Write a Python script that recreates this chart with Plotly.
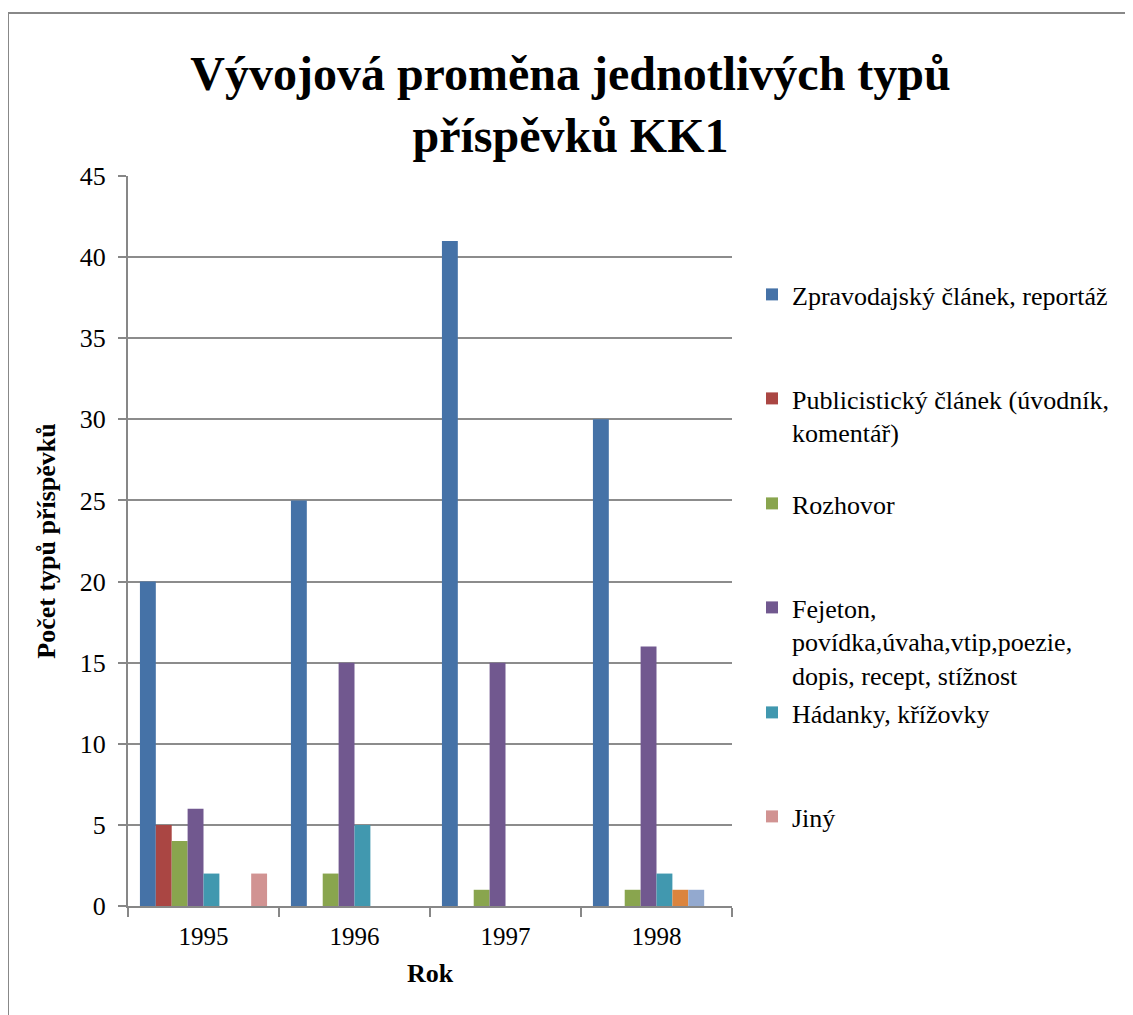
import plotly.graph_objects as go

years = ["1995", "1996", "1997", "1998"]

series_names = [
    "Zpravodajský článek, reportáž",
    "Publicistický článek (úvodník,<br>komentář)",
    "Rozhovor",
    "Fejeton,<br>povídka,úvaha,vtip,poezie,<br>dopis, recept, stížnost",
    "Hádanky, křížovky",
    "Série 6",
    "Série 7",
    "Jiný",
]

zpravodajsky = [20, 25, 41, 30]
publicisticky = [5, 0, 0, 0]
rozhovor = [4, 2, 1, 1]
fejeton = [6, 15, 15, 16]
hadanky = [2, 5, 0, 2]
serie6 = [0, 0, 0, 1]
serie7 = [0, 0, 0, 1]
jiny = [2, 0, 0, 0]

values = [zpravodajsky, publicisticky, rozhovor, fejeton, hadanky, serie6, serie7, jiny]
colors = ["#4572A7", "#AA4643", "#89A54E", "#71588F", "#4198AF", "#DB843D", "#93A9CF", "#D19392"]
in_legend = [True, True, True, True, True, False, False, True]

title_text = "Vývojová proměna jednotlivých typů<br>příspěvků KK1"
x_title = "Rok"
y_title = "Počet typů příspěvků"

FONT = "Liberation Serif"
OFF = 8  # page body margin
W, H = 1133 - OFF, 1015 - OFF
L, R, T, B = 128, 732, 176, 906  # plot area in page pixels

fig = go.Figure()
legend_ids = ["legend", "legend2", "legend3", "legend4", "legend5", "legend6"]
li = 0
for name, vals, col, show in zip(series_names, values, colors, in_legend):
    kw = {}
    if show:
        kw["legend"] = legend_ids[li]
        li += 1
    fig.add_trace(go.Bar(
        x=years, y=vals, name=name, marker=dict(color=col, line=dict(width=0)),
        showlegend=show, **kw
    ))

def px_x(p):
    return (p - L) / (R - L)

def px_y(p):
    return (B - p) / (B - T)

legend_common = dict(
    font=dict(family=FONT, size=26, color="#000000"),
    bgcolor="rgba(0,0,0,0)", valign="top", xanchor="left", yanchor="top",
    itemclick=False, itemdoubleclick=False,
)
first_line_centers = [297, 401, 506, 610, 715, 819]
layout_legends = {}
for lid, cy in zip(legend_ids, first_line_centers):
    layout_legends[lid] = dict(x=px_x(752), y=px_y(cy - 26), **legend_common)

fig.update_layout(
    width=W, height=H,
    margin=dict(l=L - OFF, r=W - (R - OFF), t=T - OFF, b=H - (B - OFF), pad=0),
    paper_bgcolor="white", plot_bgcolor="white",
    barmode="group", bargap=0.158, bargroupgap=0,
    title=dict(text=title_text, x=0.5, xanchor="center", y=1 - 82 / H, yanchor="top",
               yref="container", xref="container",
               font=dict(family=FONT, size=48, color="#000000", weight="bold")),
    font=dict(family=FONT, size=25, color="#000000"),
    xaxis=dict(
        type="category", showline=True, linecolor="#878787", linewidth=2,
        ticks="outside", tickson="boundaries", ticklen=9, tickcolor="#878787", tickwidth=2,
        showgrid=False, tickfont=dict(family=FONT, size=25, color="#000000"),
        ticklabelstandoff=7,
        title=dict(text=x_title, font=dict(family=FONT, size=26, color="#000000", weight="bold"), standoff=15),
    ),
    yaxis=dict(
        range=[0, 45], dtick=5, showline=True, linecolor="#878787", linewidth=2,
        ticks="outside", ticklen=8, tickcolor="#878787", tickwidth=2,
        showgrid=True, gridcolor="#8c8c8c", gridwidth=1.5, zeroline=False,
        tickfont=dict(family=FONT, size=26, color="#000000"), ticklabelstandoff=7,
        title=dict(text=y_title, font=dict(family=FONT, size=26, color="#000000", weight="bold"), standoff=17),
    ),
    shapes=[dict(type="rect", xref="paper", yref="paper",
                 x0=px_x(8), x1=px_x(1145), y0=px_y(1030), y1=px_y(13),
                 line=dict(color="#888888", width=2), fillcolor="rgba(0,0,0,0)", layer="below")],
    **layout_legends,
)

fig.write_html("out.html")
